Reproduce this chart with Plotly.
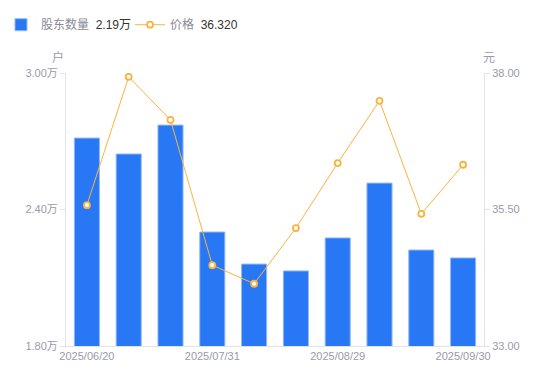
import plotly.graph_objects as go

dates = ["2025/06/20", "2025/06/30", "2025/07/15", "2025/07/31", "2025/08/08",
         "2025/08/20", "2025/08/29", "2025/09/10", "2025/09/19", "2025/09/30"]
holders = [2.714, 2.644, 2.771, 2.301, 2.160, 2.130, 2.275, 2.516, 2.222, 2.187]  # 万户
price = [35.58, 37.93, 37.14, 34.48, 34.14, 35.16, 36.35, 37.49, 35.42, 36.32]

tick_dates = ["2025/06/20", "2025/07/31", "2025/08/29", "2025/09/30"]
left_ticks = [1.8, 2.4, 3.0]
right_ticks = [33.0, 35.5, 38.0]

FONT = "Helvetica Neue, Arial, Liberation Sans, Noto Sans CJK SC, sans-serif"
BLUE = "#2878f5"
ORANGE = "#fbb33f"
TICK = "#9a9aac"
AXIS = "#e3e3e3"

fig = go.Figure()
fig.add_trace(go.Bar(
    x=dates, y=holders, yaxis="y",
    name=f"<span style='color:#8a8a96'>股东数量</span>  <span style='color:#333'>{holders[-1]:.2f}万</span>",
    marker=dict(color=BLUE, line=dict(color="#8fb8fa", width=1)),
))
fig.add_trace(go.Scatter(
    x=dates, y=price, yaxis="y2", mode="lines+markers",
    name=f"<span style='color:#8a8a96'>价格</span>  <span style='color:#333'>{price[-1]:.3f}</span>",
    line=dict(color=ORANGE, width=1),
    marker=dict(size=6, color="white", line=dict(color=ORANGE, width=1.8)),
))

# page body has an 8px margin, so the figure is sized/offset to land where the reference is
fig.update_layout(
    width=542, height=373,
    margin=dict(l=58, r=66, t=65, b=35, autoexpand=False),
    plot_bgcolor="white", paper_bgcolor="white",
    font=dict(family=FONT, size=12, color="#333"),
    bargap=0.4,
    showlegend=True,
    legend=dict(orientation="h", x=-0.1555, y=1.230, xanchor="left", yanchor="top",
                font=dict(size=12), entrywidth=84, bgcolor="rgba(0,0,0,0)"),
    xaxis=dict(type="category", range=[-0.5, 9.5], tickmode="array",
               tickvals=tick_dates, ticktext=tick_dates,
               showline=True, linecolor=AXIS, linewidth=1, ticks="",
               tickfont=dict(size=11, color=TICK), showgrid=False, zeroline=False),
    yaxis=dict(range=[1.8, 3.0], tickmode="array", tickvals=left_ticks,
               ticktext=[f"{v:.2f}万" for v in left_ticks],
               showline=True, linecolor=AXIS, linewidth=1,
               ticks="outside", ticklen=5, tickcolor=AXIS,
               tickfont=dict(size=11, color=TICK), showgrid=False, zeroline=False),
    yaxis2=dict(range=[33, 38], overlaying="y", side="right", tickmode="array",
                tickvals=right_ticks, ticktext=[f"{v:.2f}" for v in right_ticks],
                showline=True, linecolor=AXIS, linewidth=1,
                ticks="outside", ticklen=5, tickcolor=AXIS,
                tickfont=dict(size=11, color=TICK), showgrid=False, zeroline=False),
    annotations=[
        dict(text="户", xref="paper", yref="paper", x=-0.019, y=1.022,
             xanchor="center", yanchor="bottom", showarrow=False,
             font=dict(size=12, color=TICK)),
        dict(text="元", xref="paper", yref="paper", x=1.012, y=1.022,
             xanchor="center", yanchor="bottom", showarrow=False,
             font=dict(size=12, color=TICK)),
    ],
)

fig.write_html("out.html")
